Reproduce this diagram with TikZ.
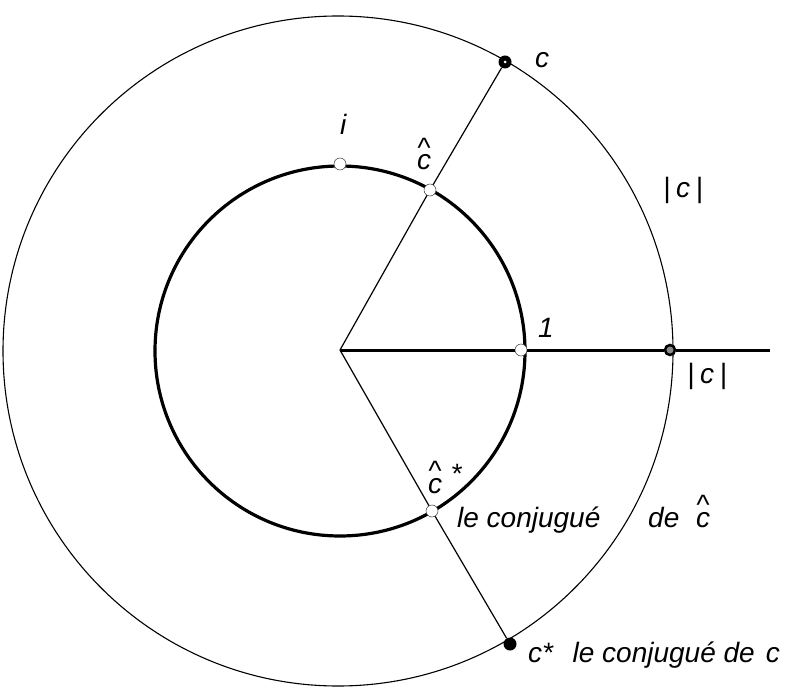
\documentclass[tikz,border=0pt]{standalone}
\usepackage{fontspec}
\setmainfont{Liberation Sans}
\newcommand{\hc}{\leavevmode\rlap{\raisebox{0.45em}{\textasciicircum}}c}
\begin{document}
\begin{tikzpicture}[x=1pt,y=-1pt,
  openpt/.style={circle, draw=black!80, fill=white, line width=0.5pt, inner sep=0pt, minimum size=12pt},
  fullpt/.style={circle, fill=black, inner sep=0pt, minimum size=13pt},
  ringpt/.style={circle, draw=black, line width=2.5pt, fill=black!45, inner sep=0pt, minimum size=10pt},
  lbl/.style={font=\itshape\fontsize{28}{30}\selectfont, inner sep=0pt, anchor=base west},
  thinline/.style={line width=1.2pt},
  thickline/.style={line width=3pt},
]
\useasboundingbox (0,0) rectangle (789,692);
% circles
\draw[line width=1.1pt] (338,351) circle [radius=335];
\draw[line width=3.2pt] (340,351) circle [radius=185];
% points
\coordinate (O) at (340,350);
\coordinate (E) at (770,350);
\node[fullpt] (c) at (505,62) {};
\node[openpt] (ch) at (430,190) {};
\node[openpt] (i) at (340,164) {};
\node[openpt] (one) at (521,350) {};
\node[ringpt] (abs) at (670,350) {};
\node[openpt] (chs) at (432,511) {};
\node[fullpt] (cs) at (510,644) {};
% connectors
\draw[thinline] (O) -- (ch);
\draw[thinline] (ch) -- (c);
\draw[thinline] (O) -- (chs);
\draw[thinline] (chs) -- (cs);
\draw[thickline] (O) -- (one);
\draw[thickline] (one) -- (abs);
\draw[thickline] (abs) -- (E);
\fill[white] (c) circle [radius=1.5];
% labels
\node[lbl] (lc) at (535,68) {c};
\node[lbl] (lch) at (417,170) {\hc};
\node[lbl] (li) at (340,135) {i};
\node[lbl] (labs1) at (663,198) {|\kern0.2em c\kern0.2em|};
\node[lbl] (lone) at (538,337) {1};
\node[lbl] (labs2) at (687,383) {|\kern0.2em c\kern0.2em|};
\node[lbl] (lchs) at (428,493) {\hc\kern0.3em\raisebox{0.35em}{*}};
\node[lbl] (lconj1) at (457,527) {le conjugué};
\node[lbl] (lde) at (648,527) {de\hspace{0.6em}\hc};
\node[lbl] (lcs) at (528,662) {c*\hspace{0.7em}le conjugué de\hspace{0.4em}c};
\end{tikzpicture}
\end{document}
